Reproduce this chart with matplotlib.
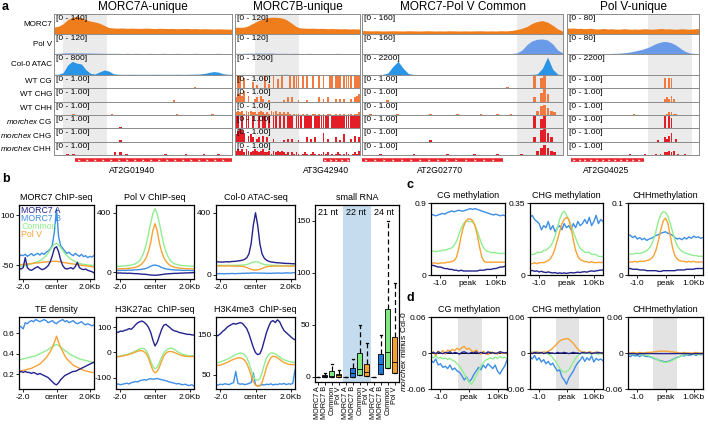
import numpy as np
import matplotlib
matplotlib.use('Agg')
import matplotlib.pyplot as plt

plt.rcParams['font.family'] = ['Liberation Sans', 'DejaVu Sans']
plt.rcParams['mathtext.fontset'] = 'custom'
plt.rcParams['mathtext.rm'] = 'Liberation Sans'
plt.rcParams['mathtext.it'] = 'Liberation Sans:italic'

W, H = 708, 424

# ---------------- panel a data (genome browser) ----------------
col_titles = ['MORC7A-unique', 'MORC7B-unique', 'MORC7-Pol V Common', 'Pol V-unique']
track_names = ['MORC7', 'Pol V', 'Col-0 ATAC', 'WT CG', 'WT CHG', 'WT CHH',
               r'$\mathit{morchex}$ CG', r'$\mathit{morchex}$ CHG', r'$\mathit{morchex}$ CHH']
morc7_max = [140, 120, 160, 80]
polv_max = [120, 120, 160, 80]
atac_max = [800, 1200, 2200, 2200]

morc7_cov = [
    [48, 55, 72, 100, 118, 122, 115, 100, 90, 84, 75, 60, 45, 42, 41, 42, 40, 41, 40, 39,
     41, 40, 38, 40, 39, 38, 39, 37, 38, 39, 37, 38, 36, 37, 36, 35, 36, 35, 34, 33],
    [40, 41, 40, 42, 48, 58, 68, 78, 86, 92, 98, 100, 101, 100, 98, 94, 86, 74, 60, 46,
     38, 36, 35, 34, 35, 34, 33, 34, 33, 32, 33, 32, 32, 31, 32, 31, 30, 31, 30, 30],
    [28, 26, 25, 26, 24, 25, 26, 25, 24, 26, 25, 24, 25, 26, 24, 25, 24, 26, 25, 24,
     25, 24, 25, 26, 24, 25, 24, 26, 25, 28, 35, 45, 60, 85, 100, 107, 95, 70, 40, 22],
    [24, 23, 24, 22, 23, 21, 22, 23, 21, 20, 21, 22, 20, 21, 20, 19, 20, 21, 20, 19,
     20, 19, 20, 21, 20, 19, 20, 21, 22, 20, 21, 20, 19, 20, 21, 20, 19, 20, 21, 22],
]
polv_cov = [
    [3, 4, 6, 7, 7, 6, 7, 6, 6, 5, 5, 4, 4, 4, 4, 3, 4, 3, 4, 3,
     3, 4, 3, 3, 4, 3, 3, 4, 3, 3, 3, 4, 3, 3, 3, 3, 4, 3, 3, 3],
    [4, 4, 4, 4, 5, 5, 5, 6, 5, 5, 5, 6, 5, 4, 4, 4, 4, 3, 4, 4,
     3, 3, 3, 4, 3, 3, 3, 3, 3, 3, 3, 3, 4, 3, 3, 3, 3, 3, 3, 3],
    [3, 3, 3, 3, 3, 3, 3, 3, 3, 3, 3, 3, 3, 3, 3, 3, 3, 3, 3, 3,
     3, 3, 3, 3, 3, 3, 3, 3, 3, 4, 8, 30, 75, 105, 118, 120, 112, 80, 30, 8],
    [2, 2, 2, 2, 2, 2, 2, 2, 2, 2, 2, 2, 2, 2, 3, 3, 4, 5, 7, 9,
     12, 15, 18, 22, 27, 33, 40, 45, 49, 50, 48, 44, 37, 28, 18, 10, 5, 3, 2, 2],
]
atac_cov = [
    [25, 30, 90, 380, 520, 450, 420, 200, 60, 40, 120, 190, 150, 50, 30, 25, 25, 28, 25, 25,
     25, 25, 28, 25, 25, 25, 25, 28, 25, 25, 30, 32, 40, 60, 100, 130, 110, 50, 28, 25],
    [25, 25, 25, 25, 25, 25, 25, 28, 25, 25, 25, 25, 25, 25, 30, 35, 40, 30, 25, 25,
     25, 25, 25, 28, 30, 25, 25, 25, 25, 25, 25, 25, 25, 25, 25, 25, 25, 25, 25, 25],
    [40, 40, 45, 50, 60, 200, 900, 1430, 700, 150, 60, 45, 40, 40, 40, 40, 40, 40, 40, 40,
     40, 40, 45, 40, 40, 40, 40, 40, 40, 40, 45, 50, 55, 60, 120, 700, 1870, 600, 80, 40],
    [30, 30, 32, 30, 30, 35, 30, 30, 30, 30, 30, 30, 32, 30, 30, 30, 30, 35, 40, 35,
     30, 30, 30, 30, 30, 30, 30, 30, 30, 30, 30, 30, 30, 30, 30, 30, 30, 30, 30, 30],
]

# methylation level per bin, digit/9 (one string per column)
wt_cg = ['0000000000 0000000000 0000000000 0000000000 0000000100 0000000000',
         '0890700040 2000803090 6090009099 9080900900 9090099099 9099990999',
         '0000000000 0000000000 0000000000 0000000000 0001000000 0807900000',
         '0000000000 0000000000 0000000000 0000000000 0000707700 0000000000']
wt_chg = ['0000000000 0000000000 0000000000 0000000000 1000000000 0000000000',
          '3564704002 3042001000 0001030300 1000100000 3020300020 2020020345',
          '0000000100 0000000000 0000000000 0000000000 0000000000 0306950000',
          '0000000000 0000000000 0000000000 0000000000 0000232420 0000000000']
wt_chh = ['0000001000 0000000001 0000000000 0000000000 0100000000 0001000000',
          '2323132322 1232121323 1212121011 1010100110 1010110010 1010110112',
          '0010000000 1000000000 1000000010 0000010000 1000100000 0036753200',
          '0000000000 0000000000 0000000000 1000000000 0000012211 0000000000']
mx_cg = ['0000000000 0000000000 0010000000 0000000000 0000000000 0000000000',
         '9909099090 0909909099 0909099909 9909999099 9999909999 9999999999',
         '0000000000 0000000000 0000000000 0000000000 0000000000 0806800000',
         '0000000000 0000000000 0000000000 0000000000 0000808700 0000000000']
mx_chg = ['0000000000 0000000000 0010000000 0000000000 0000000000 0000000000',
          '5798604530 2304030020 0001020200 1000302030 0060200030 1050020403',
          '0000000000 0000000000 1000000000 0000000000 0000000000 0308963000',
          '0000000000 0000000000 0000000000 0000000000 0100324602 0000000000']
mx_chh = ['0000101000 0000000000 2020100000 0000000100 0000100000 1000010000',
          '3434243234 3234223132 3232120212 1012101210 1121201012 1012101213',
          '0000010000 0000010000 0000010000 0001000000 1000000100 0035753200',
          '0000000000 0000000000 0000000010 0000010000 1010223230 1001000000']

# window fraction of the shaded peak region, each gene, and its name
peak_span = [(0.05, 0.30), (0.16, 0.51), (0.77, 1.0), (0.61, 0.95)]
gene_span = [(0.12, 1.0), (0.70, 0.92), (0.0, 0.70), (0.03, 0.58)]
gene_label_at = [0.44, 0.73, 0.39, 0.30]
gene_names = ['AT2G01940', 'AT3G42940', 'AT2G02770', 'AT2G04025']

# ---------------- panel b/c/d data (profiles, order: MORC7 A, MORC7 B, Common, Pol V) ----------------
series = ['MORC7 A', 'MORC7 B', 'Common', 'Pol V']
line_colors = ['#23238e', '#3d8ee6', '#90ee90', '#f7a234']

morc7_chip = [
    [-60, -62, -58, -28, -58, -64, -66, -62, -58, -55, -60, -64, -62, -58, -52, -40, -22, 0, 5, -10,
     -35, -52, -60, -62, -60, -58, -62, -55, -42, -58, -62, -64, -62, -66, -68, -70, -74],
    [-25, -20, -22, -18, -24, -20, -16, -22, -18, -15, -20, -14, -18, -12, -8, -2, 10, 50, 118, 35,
     8, 0, -8, -15, -12, -18, -22, -15, -20, -24, -18, -25, -22, -28, -24, -26, -22],
    [-55, -54, -53, -52, -50, -48, -46, -44, -42, -40, -37, -33, -28, -22, -14, -5, 5, 12, 15, 10,
     2, -6, -15, -22, -28, -33, -37, -40, -43, -45, -47, -48, -49, -50, -50, -51, -52],
    [-50, -49, -48, -48, -47, -46, -46, -45, -44, -44, -43, -42, -41, -41, -40, -40, -39, -39, -39, -40,
     -41, -42, -43, -44, -45, -46, -47, -48, -49, -50, -51, -52, -52, -53, -54, -55, -56],
]
polv_chip = [
    [-5, -6, -5, -7, -6, -8, -7, -8, -9, -10, -10, -12, -13, -14, -15, -17, -19, -20, -21, -20,
     -18, -16, -14, -12, -11, -10, -9, -8, -8, -7, -6, -6, -5, -5, -4, -4, -3],
    [12, 11, 12, 13, 12, 13, 14, 13, 15, 16, 16, 18, 20, 22, 26, 32, 40, 46, 48, 45,
     40, 32, 26, 22, 20, 18, 16, 15, 14, 14, 13, 12, 12, 13, 12, 11, 10],
    [40, 40, 41, 42, 43, 44, 46, 48, 52, 57, 66, 80, 105, 140, 190, 260, 330, 395, 428, 395,
     330, 260, 190, 140, 105, 80, 66, 57, 52, 48, 46, 44, 43, 42, 41, 40, 40],
    [22, 22, 23, 23, 24, 25, 26, 28, 30, 33, 38, 45, 58, 75, 100, 140, 200, 280, 327, 280,
     200, 140, 100, 75, 58, 45, 38, 33, 30, 28, 26, 25, 24, 23, 23, 22, 22],
]
atac_prof = [
    [85, 84, 83, 83, 84, 85, 84, 86, 87, 88, 90, 92, 95, 100, 110, 135, 200, 320, 400, 320,
     200, 135, 108, 95, 88, 84, 82, 80, 78, 78, 76, 75, 74, 74, 73, 72, 72],
    [8, 7, 9, 8, 7, 9, 8, 10, 9, 8, 10, 9, 11, 10, 12, 11, 13, 12, 13, 12,
     12, 11, 12, 10, 11, 10, 12, 11, 13, 12, 11, 12, 14, 13, 12, 14, 15],
    [62, 62, 62, 62, 61, 62, 62, 62, 62, 62, 63, 63, 64, 65, 67, 72, 78, 83, 85, 83,
     78, 72, 67, 65, 64, 63, 62, 62, 61, 61, 60, 60, 60, 59, 59, 59, 58],
    [58, 58, 58, 58, 57, 58, 58, 57, 57, 57, 57, 56, 55, 53, 48, 42, 36, 33, 32, 33,
     36, 42, 48, 53, 55, 56, 57, 57, 57, 58, 58, 58, 57, 57, 57, 56, 56],
]
te_density = [
    [0.22, 0.23, 0.22, 0.23, 0.22, 0.22, 0.21, 0.22, 0.21, 0.20, 0.21, 0.20, 0.19, 0.18, 0.17, 0.15, 0.13, 0.11, 0.10, 0.12,
     0.15, 0.17, 0.19, 0.20, 0.21, 0.22, 0.23, 0.23, 0.24, 0.25, 0.26, 0.27, 0.28, 0.29, 0.30, 0.31, 0.32],
    [0.67, 0.66, 0.64, 0.70, 0.69, 0.71, 0.72, 0.71, 0.73, 0.72, 0.71, 0.72, 0.73, 0.72, 0.70, 0.71, 0.72, 0.70, 0.69, 0.71,
     0.72, 0.73, 0.71, 0.72, 0.70, 0.71, 0.72, 0.70, 0.69, 0.70, 0.71, 0.69, 0.68, 0.69, 0.68, 0.67, 0.68],
    [0.34, 0.345, 0.35, 0.355, 0.36, 0.365, 0.37, 0.375, 0.38, 0.39, 0.40, 0.41, 0.42, 0.43, 0.44, 0.455, 0.47, 0.48, 0.49, 0.48,
     0.465, 0.45, 0.43, 0.42, 0.40, 0.39, 0.38, 0.37, 0.36, 0.35, 0.345, 0.34, 0.335, 0.33, 0.325, 0.32, 0.31],
    [0.23, 0.235, 0.24, 0.245, 0.25, 0.255, 0.26, 0.27, 0.28, 0.29, 0.30, 0.32, 0.34, 0.36, 0.39, 0.42, 0.46, 0.51, 0.57, 0.51,
     0.46, 0.42, 0.38, 0.35, 0.33, 0.31, 0.29, 0.28, 0.27, 0.26, 0.25, 0.24, 0.235, 0.23, 0.225, 0.22, 0.22],
]
h3k27ac = [
    [82, 80, 85, 84, 88, 90, 95, 92, 100, 110, 118, 122, 125, 120, 112, 100, 80, 50, 26, 40,
     65, 90, 108, 112, 105, 98, 90, 86, 84, 80, 78, 76, 74, 72, 72, 70, 69],
    [-127, -125, -128, -126, -124, -122, -125, -120, -118, -115, -117, -112, -110, -108, -110, -106, -104, -106, -105, -103,
     -106, -108, -110, -112, -115, -118, -120, -122, -125, -123, -127, -128, -126, -130, -131, -128, -133],
    [-16, -15, -14, -12, -10, -8, -5, -2, 2, 6, 10, 14, 17, 15, 8, -10, -35, -55, -65, -58,
     -40, -20, -2, 8, 14, 17, 16, 12, 6, 0, -4, -8, -10, -12, -13, -13, -13],
    [-18, -17, -16, -14, -12, -10, -8, -5, -2, 2, 5, 7, 7, 3, -5, -22, -48, -70, -81, -75,
     -58, -35, -15, -3, 3, 4, 3, 0, -4, -8, -11, -13, -15, -16, -16, -16, -16],
]
h3k4me3 = [
    [146, 148, 152, 158, 162, 168, 172, 175, 178, 176, 178, 180, 178, 172, 165, 152, 135, 118, 105, 100,
     102, 115, 135, 155, 170, 182, 185, 180, 187, 182, 170, 160, 155, 150, 145, 140, 137],
    [25, 24, 26, 25, 27, 26, 25, 28, 30, 58, 28, 26, 27, 25, 26, 28, 30, 54, 24, 22,
     23, 25, 24, 26, 25, 27, 24, 26, 25, 27, 26, 28, 25, 27, 26, 28, 62],
    [79, 80, 82, 84, 86, 88, 91, 94, 97, 100, 102, 104, 103, 100, 92, 80, 62, 45, 37, 36,
     40, 55, 75, 92, 100, 104, 104, 102, 98, 94, 90, 87, 85, 83, 82, 81, 81],
    [72, 73, 74, 76, 78, 80, 83, 86, 88, 90, 92, 92, 90, 86, 78, 65, 48, 32, 24, 21,
     22, 30, 48, 68, 82, 92, 96, 95, 92, 88, 84, 80, 78, 76, 75, 75, 75],
]

cg_meth = [
    [0.12, 0.12, 0.11, 0.10, 0.10, 0.09, 0.08, 0.08, 0.07, 0.07, 0.06, 0.06, 0.05, 0.06, 0.05, 0.05, 0.05,
     0.05, 0.05, 0.05, 0.05, 0.06, 0.06, 0.06, 0.07, 0.07, 0.07, 0.08, 0.08, 0.09, 0.10, 0.10, 0.11],
    [0.76, 0.75, 0.74, 0.75, 0.76, 0.77, 0.76, 0.78, 0.79, 0.80, 0.79, 0.80, 0.81, 0.80, 0.80, 0.81, 0.82,
     0.83, 0.82, 0.83, 0.82, 0.81, 0.80, 0.79, 0.78, 0.77, 0.76, 0.75, 0.76, 0.75, 0.74, 0.75, 0.74],
    [0.30, 0.30, 0.29, 0.30, 0.30, 0.31, 0.31, 0.32, 0.33, 0.34, 0.37, 0.42, 0.50, 0.58, 0.64, 0.67, 0.67,
     0.67, 0.66, 0.62, 0.55, 0.46, 0.38, 0.33, 0.30, 0.29, 0.28, 0.28, 0.28, 0.27, 0.27, 0.27, 0.27],
    [0.15, 0.15, 0.15, 0.14, 0.15, 0.15, 0.15, 0.16, 0.16, 0.17, 0.18, 0.22, 0.33, 0.48, 0.60, 0.67, 0.70,
     0.70, 0.68, 0.62, 0.50, 0.35, 0.22, 0.17, 0.16, 0.16, 0.16, 0.16, 0.16, 0.16, 0.16, 0.16, 0.16],
]
chg_meth = [
    [0.02, 0.022, 0.018, 0.02, 0.015, 0.018, 0.014, 0.012, 0.015, 0.012, 0.01, 0.012, 0.008, 0.01, 0.008, 0.01, 0.008,
     0.01, 0.012, 0.01, 0.012, 0.014, 0.012, 0.015, 0.016, 0.014, 0.018, 0.02, 0.018, 0.02, 0.022, 0.024, 0.024],
    [0.28, 0.29, 0.27, 0.26, 0.25, 0.22, 0.24, 0.23, 0.26, 0.22, 0.24, 0.21, 0.23, 0.24, 0.22, 0.25, 0.23,
     0.24, 0.22, 0.25, 0.23, 0.26, 0.24, 0.25, 0.27, 0.25, 0.28, 0.24, 0.26, 0.29, 0.25, 0.27, 0.26],
    [0.10, 0.10, 0.10, 0.11, 0.11, 0.11, 0.12, 0.12, 0.13, 0.14, 0.16, 0.19, 0.23, 0.27, 0.30, 0.31, 0.29,
     0.27, 0.24, 0.21, 0.18, 0.15, 0.13, 0.12, 0.11, 0.11, 0.11, 0.10, 0.10, 0.10, 0.09, 0.09, 0.09],
    [0.055, 0.055, 0.06, 0.055, 0.06, 0.06, 0.06, 0.065, 0.07, 0.08, 0.10, 0.13, 0.17, 0.21, 0.25, 0.27, 0.28,
     0.27, 0.23, 0.17, 0.12, 0.09, 0.075, 0.07, 0.065, 0.065, 0.06, 0.065, 0.06, 0.06, 0.062, 0.06, 0.062],
]
chh_meth = [
    [0.009, 0.009, 0.008, 0.008, 0.008, 0.007, 0.007, 0.007, 0.006, 0.006, 0.006, 0.006, 0.006, 0.005, 0.005, 0.006, 0.006,
     0.006, 0.006, 0.006, 0.006, 0.007, 0.007, 0.007, 0.007, 0.008, 0.008, 0.008, 0.008, 0.009, 0.009, 0.009, 0.009],
    [0.056, 0.055, 0.052, 0.054, 0.050, 0.052, 0.049, 0.051, 0.048, 0.050, 0.051, 0.053, 0.055, 0.056, 0.058, 0.059, 0.060,
     0.058, 0.057, 0.055, 0.052, 0.050, 0.051, 0.049, 0.052, 0.050, 0.053, 0.051, 0.054, 0.052, 0.053, 0.051, 0.052],
    [0.029, 0.029, 0.029, 0.030, 0.030, 0.030, 0.031, 0.032, 0.034, 0.037, 0.042, 0.050, 0.062, 0.075, 0.084, 0.088, 0.087,
     0.082, 0.072, 0.060, 0.049, 0.041, 0.036, 0.033, 0.031, 0.030, 0.029, 0.028, 0.027, 0.027, 0.026, 0.026, 0.026],
    [0.018, 0.018, 0.018, 0.019, 0.018, 0.019, 0.019, 0.019, 0.020, 0.021, 0.023, 0.027, 0.035, 0.048, 0.063, 0.075, 0.079,
     0.072, 0.055, 0.038, 0.027, 0.022, 0.020, 0.019, 0.019, 0.018, 0.019, 0.018, 0.019, 0.018, 0.018, 0.018, 0.018],
]

cg_diff = [
    [0.000, 0.001, -0.001, 0.002, 0.000, -0.001, 0.001, 0.000, 0.002, -0.001, 0.001, 0.000, -0.002, 0.001, 0.002, 0.000, -0.001,
     0.001, 0.000, 0.002, -0.001, 0.001, 0.000, -0.001, 0.002, 0.000, 0.001, -0.001, 0.000, 0.002, 0.001, 0.000, 0.001],
    [-0.012, -0.016, -0.010, -0.020, -0.018, -0.024, -0.022, -0.026, -0.020, -0.028, -0.025, -0.030, -0.032, -0.038, -0.045, -0.040, -0.048,
     -0.044, -0.036, -0.030, -0.024, -0.028, -0.020, -0.025, -0.018, -0.022, -0.026, -0.020, -0.030, -0.035, -0.028, -0.022, -0.012],
    [-0.006, -0.008, -0.005, -0.009, -0.007, -0.010, -0.008, -0.011, -0.009, -0.012, -0.014, -0.018, -0.022, -0.028, -0.035, -0.042, -0.048,
     -0.052, -0.046, -0.038, -0.030, -0.022, -0.016, -0.012, -0.010, -0.008, -0.010, -0.007, -0.009, -0.006, -0.008, -0.007, -0.009],
    [-0.002, 0.002, -0.004, 0.003, 0.000, 0.004, -0.002, 0.005, 0.003, 0.006, 0.004, 0.008, 0.005, 0.009, 0.011, 0.006, 0.008,
     0.004, 0.002, 0.005, 0.001, -0.002, 0.003, 0.000, -0.003, 0.002, -0.001, 0.001, -0.002, 0.002, -0.001, 0.000, -0.002],
]
chg_diff = [
    [0.000, -0.001, 0.001, 0.000, 0.000, 0.001, -0.001, 0.000, 0.001, 0.000, 0.000, -0.001, 0.001, 0.000, 0.000, 0.001, 0.000,
     -0.001, 0.000, 0.001, 0.000, 0.000, -0.001, 0.001, 0.000, 0.000, 0.001, -0.001, 0.000, 0.000, 0.001, 0.000, 0.000],
    [-0.006, -0.010, -0.004, -0.012, -0.008, -0.015, -0.011, -0.018, -0.014, -0.020, -0.017, -0.024, -0.030, -0.028, -0.040, -0.045, -0.052,
     -0.042, -0.036, -0.030, -0.022, -0.016, -0.012, -0.006, -0.014, -0.008, -0.012, -0.005, -0.015, -0.009, -0.012, -0.010, -0.013],
    [0.002, 0.001, 0.002, 0.000, 0.001, 0.000, -0.001, 0.000, -0.002, -0.004, -0.008, -0.013, -0.019, -0.025, -0.030, -0.032, -0.031,
     -0.028, -0.022, -0.015, -0.009, -0.004, -0.001, 0.000, -0.001, 0.000, -0.001, -0.002, 0.000, -0.001, -0.002, -0.001, -0.002],
    [0.000, 0.001, 0.000, 0.002, 0.001, 0.000, 0.002, 0.001, 0.003, 0.005, 0.008, 0.012, 0.016, 0.020, 0.022, 0.023, 0.024,
     0.023, 0.020, 0.016, 0.011, 0.006, 0.003, 0.001, 0.002, 0.000, 0.002, 0.001, 0.000, 0.002, 0.001, 0.000, 0.001],
]
chh_diff = [
    [-0.001, -0.001, -0.001, -0.001, -0.002, -0.001, -0.001, -0.001, -0.001, -0.001, -0.001, -0.001, -0.001, -0.001, -0.001, -0.001, -0.001,
     -0.001, -0.001, -0.001, -0.001, -0.001, -0.001, -0.001, -0.001, -0.001, -0.001, -0.002, -0.001, -0.001, -0.001, -0.001, -0.001],
    [-0.004, -0.006, -0.003, -0.005, -0.004, -0.006, -0.003, -0.005, -0.006, -0.006, -0.007, -0.009, -0.010, -0.012, -0.013, -0.014, -0.015,
     -0.014, -0.013, -0.011, -0.009, -0.007, -0.006, -0.004, -0.005, -0.003, -0.004, -0.003, -0.002, -0.004, -0.002, -0.003, -0.002],
    [-0.002, -0.002, -0.002, -0.002, -0.002, -0.003, -0.003, -0.003, -0.004, -0.005, -0.006, -0.008, -0.010, -0.012, -0.014, -0.015, -0.016,
     -0.015, -0.014, -0.012, -0.010, -0.008, -0.006, -0.004, -0.003, -0.003, -0.002, -0.002, -0.002, -0.002, -0.002, -0.002, -0.002],
    [0.000, 0.000, 0.001, 0.000, 0.000, 0.001, 0.000, 0.000, 0.001, 0.001, 0.001, 0.002, 0.002, 0.003, 0.003, 0.003, 0.003,
     0.003, 0.002, 0.002, 0.001, 0.001, 0.000, 0.000, 0.001, 0.000, 0.000, 0.000, 0.000, 0.001, 0.000, 0.000, 0.000],
]

# small RNA boxes: 21 nt, 22 nt, 24 nt x (MORC7 A, MORC7 B, Common, Pol V)
srna_labels = series * 3
srna_groups = ['21 nt', '22 nt', '24 nt']
srna_q1 = [0, 0, 0, 0, 0, 0, 1.5, 0.6, 0, 3, 8, 4]
srna_med = [0, 1, 1, 1.5, 0, 4, 7.6, 4.5, 0, 12, 24, 14]
srna_q3 = [0, 2, 5.5, 3, 0, 8.6, 23, 12.7, 0, 22, 65, 38]
srna_whi = [0, 4, 12, 7, 0, 17, 50, 32, 0, 40, 150, 90]
box_colors = ['#1c1c70', '#1f7ae0', '#80e880', '#f5a030']

fig = plt.figure(figsize=(W / 100, H / 100), dpi=100)


def px_axes(x0, y0, x1, y1):
    return fig.add_axes([x0 / W, 1 - y1 / H, (x1 - x0) / W, (y1 - y0) / H])


# ---------------- panel a ----------------
col_x = [(54, 232), (235, 360), (362, 563), (567, 699)]
row_y = [14, 34, 54, 75, 88, 102, 115, 128, 142, 155]
cov_colors = ['#f07d1c', '#6a9be8', '#2a95e6']
meth_colors = ['#f07a40'] * 3 + ['#e41e26'] * 3
cov_tracks = [morc7_cov, polv_cov, atac_cov]
cov_max = [morc7_max, polv_max, atac_max]
meth_tracks = [wt_cg, wt_chg, wt_chh, mx_cg, mx_chg, mx_chh]

for ci in range(4):
    c0, c1 = col_x[ci]
    for ti in range(9):
        ax = px_axes(c0, row_y[ti], c1, row_y[ti + 1])
        ax.axvspan(*peak_span[ci], color='#ebebeb', lw=0, zorder=0)
        if ti < 3:
            vals = cov_tracks[ti][ci]
            xs = np.linspace(0, 1, len(vals))
            ax.fill_between(xs, vals, color=cov_colors[ti], lw=0)
            ymax = cov_max[ti][ci]
            label = '[0 - %d]' % ymax
        else:
            s = meth_tracks[ti - 3][ci].replace(' ', '')
            h = np.array([int(ch) for ch in s]) / 9
            xs = (np.arange(len(h)) + 0.5) / len(h)
            ax.bar(xs, h, width=0.85 / len(h), color=meth_colors[ti - 3], lw=0)
            ymax = 1
            label = '[0 - 1.00]'
        ax.set_xlim(0, 1)
        ax.set_ylim(0, ymax)
        ax.set_xticks([])
        ax.set_yticks([])
        for sp in ax.spines.values():
            sp.set_color('#8c8c8c')
            sp.set_linewidth(0.7)
        ax.text(0.012, 0.95, label, transform=ax.transAxes, fontsize=6, va='top', ha='left')
        if ci == 0:
            fig.text(52 / W, 1 - (row_y[ti] + row_y[ti + 1]) / 2 / H, track_names[ti],
                     ha='right', va='center', fontsize=5.8)
    fig.text((c0 + c1) / 2 / W, 1 - 7 / H, col_titles[ci], ha='center', va='center', fontsize=8.5)

    # gene model
    axg = px_axes(c0, 156, c1, 175)
    axg.set_xlim(0, 1)
    axg.set_ylim(-1.2, 1)
    axg.axis('off')
    g0, g1 = gene_span[ci]
    axg.plot([g0, g1], [0.5, 0.5], color='#e8262b', lw=2.6, solid_capstyle='butt')
    ticks = np.arange(g0 + 0.02, g1 - 0.01, 0.045)
    axg.plot(ticks, np.full(len(ticks), 0.5), ls='none', marker='>', ms=1.6, color='white', mew=0)
    axg.text(gene_label_at[ci], -0.65, gene_names[ci], ha='center', va='center', fontsize=6.2)

fig.text(2 / W, 1 - 7 / H, 'a', fontsize=9, fontweight='bold', va='center')
fig.text(2 / W, 1 - 179 / H, 'b', fontsize=9, fontweight='bold', va='center')
fig.text(407 / W, 1 - 185 / H, 'c', fontsize=9, fontweight='bold', va='center')
fig.text(407 / W, 1 - 298 / H, 'd', fontsize=9, fontweight='bold', va='center')


# ---------------- profile panels ----------------
def profile_axes(rect, x, curves, ylim, yticks, yticklabels, xticks, xticklabels, title, shade=None):
    ax = px_axes(*rect)
    if shade is not None:
        ax.axvspan(*shade, color='#e3e3e3', lw=0, zorder=0)
        ax.axhline(0, color='black', lw=0.7, zorder=1)
    for k in [1, 2, 3, 0]:
        ax.plot(x, curves[k], color=line_colors[k], lw=1.0, zorder=2)
    ax.set_xlim(x[0], x[-1])
    ax.set_ylim(*ylim)
    ax.set_yticks(yticks)
    ax.set_yticklabels(yticklabels, fontsize=6)
    ax.set_xticks(xticks)
    ax.set_xticklabels(xticklabels, fontsize=6)
    ax.tick_params(length=2, width=0.6, pad=1.5)
    ax.set_title(title, fontsize=6.5, pad=3.5)
    for sp in ax.spines.values():
        sp.set_linewidth(0.9)
    return ax


xb = np.linspace(-2.25, 2.25, 37)
xc = np.linspace(-1.333, 1.333, 33)
tk_b, lab_b = [-2, 0, 2], ['-2.0', 'center', '2.0Kb']
tk_c, lab_c = [-1, 0, 1], ['-1.0', 'peak', '1.0Kb']

ax = profile_axes((19, 205, 94, 279), xb, morc7_chip, (-92, 130), [-50, 100], ['-50', '100'],
                  tk_b, lab_b, 'MORC7 ChIP-seq')
for k in range(4):
    ax.text(0.03, 0.93 - k * 0.11, series[k], color=line_colors[k], transform=ax.transAxes,
            fontsize=6.3, va='center', ha='left')
profile_axes((116, 205, 194, 279), xb, polv_chip, (-46, 453), [0, 400], ['0', '400'], tk_b, lab_b, 'Pol V ChIP-seq')
profile_axes((216, 205, 295, 279), xb, atac_prof, (-26, 450), [0, 400], ['0', '400'], tk_b, lab_b, 'Col-0 ATAC-seq')
profile_axes((19, 317, 94, 389), xb, te_density, (0.06, 0.755), [0.2, 0.4, 0.6], ['0.2', '0.4', '0.6'],
             tk_b, lab_b, 'TE density')
profile_axes((116, 317, 194, 389), xb, h3k27ac, (-145, 141), [-100, 0, 100], ['-100', '0', '100'],
             tk_b, lab_b, 'H3K27ac  ChIP-seq')
profile_axes((216, 317, 295, 389), xb, h3k4me3, (14, 194), [50, 150], ['50', '150'], tk_b, lab_b, 'H3K4me3  ChIP-seq')

profile_axes((431, 203, 505, 275), xc, cg_meth, (0, 0.9), [0, 0.9], ['0', '0.9'], tk_c, lab_c, 'CG methylation')
profile_axes((530, 203, 603, 275), xc, chg_meth, (0, 0.35), [0, 0.35], ['0', '0.35'], tk_c, lab_c, 'CHG methylation')
profile_axes((628, 203, 703, 275), xc, chh_meth, (0, 0.1), [0, 0.1], ['0', '0.1'], tk_c, lab_c, 'CHHmethylation')

dlim = (-0.06, 0.06)
dt = [-0.06, 0, 0.06]
dl = ['-0.06', '0', '0.06']
profile_axes((431, 317, 507, 389), xc, cg_diff, dlim, dt, dl, tk_c, lab_c, 'CG methylation', shade=(-0.4, 0.45))
profile_axes((530, 317, 603, 389), xc, chg_diff, dlim, dt, dl, tk_c, lab_c, 'CHG methylation', shade=(-0.4, 0.45))
profile_axes((628, 317, 703, 389), xc, chh_diff, dlim, dt, dl, tk_c, lab_c, 'CHHmethylation', shade=(-0.45, 0.4))
fig.text(403 / W, 1 - 352 / H, r'$\mathit{morchex}$ minus Col-0', rotation=90, fontsize=6,
         ha='center', va='center')

# ---------------- small RNA box plot ----------------
axr = px_axes(315, 205, 399, 382)
axr.axvspan(4.6, 8.55, color='#c5dcee', lw=0, zorder=0)
stats = []
for i in range(12):
    stats.append(dict(med=srna_med[i], q1=srna_q1[i], q3=srna_q3[i],
                      whislo=srna_q1[i], whishi=srna_whi[i]))
pos = np.arange(1, 13)
bp = axr.bxp(stats, positions=pos, widths=0.7, patch_artist=True, showfliers=False,
             boxprops=dict(linewidth=0.6),
             whiskerprops=dict(linestyle=(0, (4, 2.5)), linewidth=0.9),
             capprops=dict(linewidth=0.9), capwidths=0.35,
             medianprops=dict(color='black', linewidth=0.6))
for i, patch in enumerate(bp['boxes']):
    patch.set_facecolor(box_colors[i % 4])
for i, g in enumerate(srna_groups):
    axr.text(2.5 + 4 * i, 158, g, ha='center', va='center', fontsize=6.5)
axr.set_xlim(0.6, 12.6)
axr.set_ylim(-5, 165)
axr.set_yticks([0, 50, 100, 150])
axr.set_yticklabels(['0', '50', '100', '150'], fontsize=6)
axr.set_xticks(pos)
axr.set_xticklabels(srna_labels, rotation=90, fontsize=5.2)
axr.tick_params(length=2, width=0.6, pad=1.5)
axr.tick_params(axis='x', pad=1)
axr.set_title('small RNA', fontsize=6.5, pad=3.5)
for sp in axr.spines.values():
    sp.set_linewidth(0.9)

fig.savefig('out.png', dpi=100)
